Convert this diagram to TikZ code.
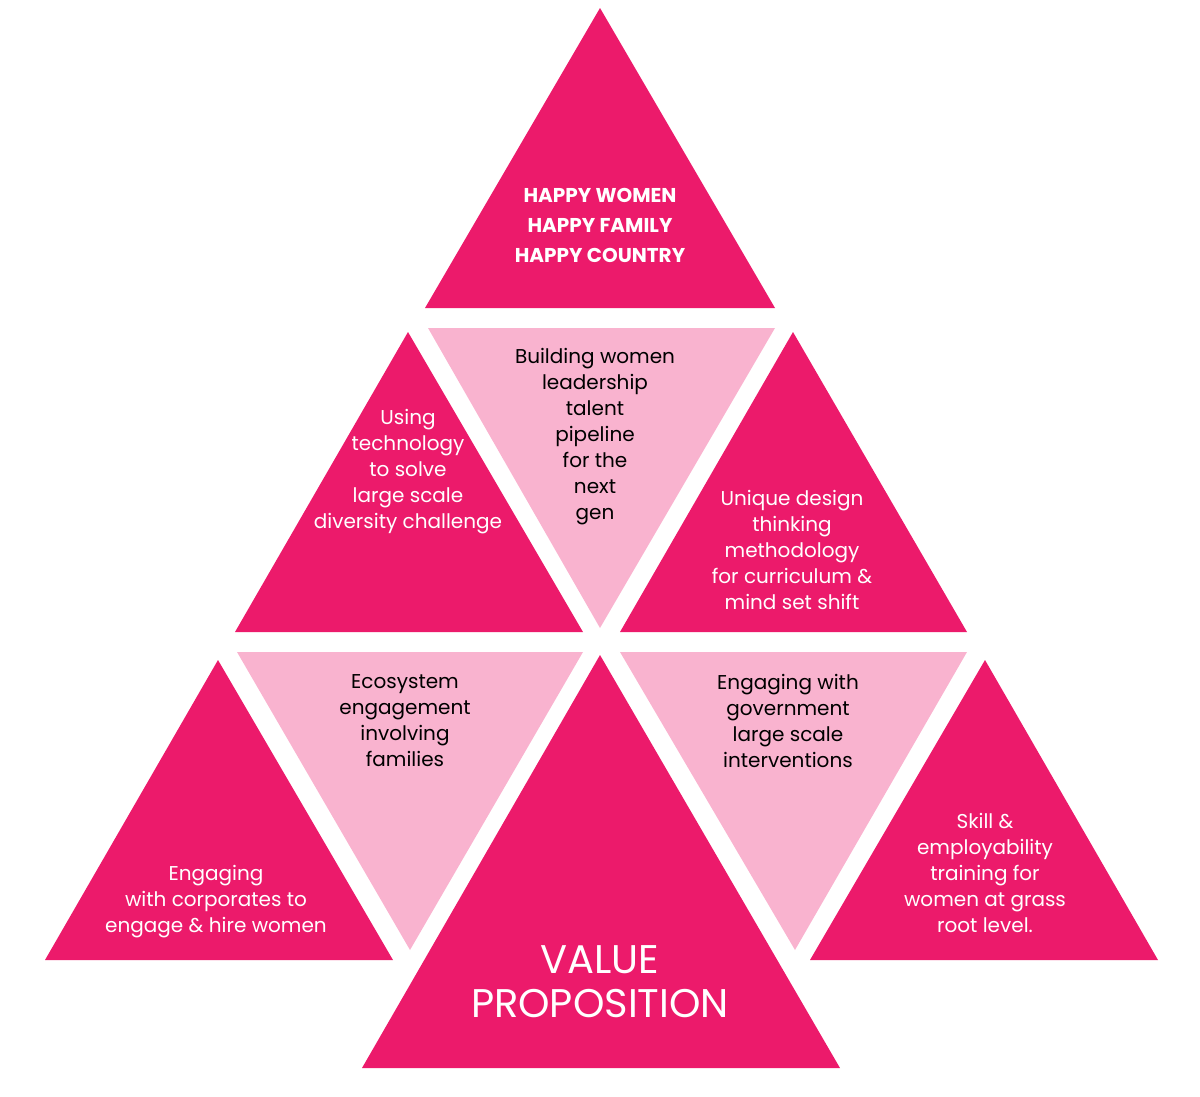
\documentclass[tikz,border=0pt]{standalone}
\usepackage{fontspec}
\setmainfont{Poppins}
\definecolor{darkpink}{HTML}{EC1A6B}
\definecolor{lightpink}{HTML}{F9B3CF}
\begin{document}
\begin{tikzpicture}[x=1pt, y=-1pt, dark/.style = {fill=darkpink}, light/.style = {fill=lightpink},
    wtext/.style = {text=white, align=center, font=\fontsize{20}{26}\selectfont},
    btext/.style = {text=black, align=center, font=\fontsize{20}{26}\selectfont}]
    \useasboundingbox (0,0) rectangle (1200,1096);
    % triangles
    \fill[dark] (600,8) -- (775,308) -- (425,308) -- cycle;
    \fill[dark] (408,332) -- (583,632) -- (235,632) -- cycle;
    \fill[light] (428,328) -- (775,328) -- (600,628) -- cycle;
    \fill[dark] (793,332) -- (967,632) -- (620,632) -- cycle;
    \fill[dark] (218,660) -- (393,960) -- (45,960) -- cycle;
    \fill[light] (237,652) -- (583,652) -- (410,950) -- cycle;
    \fill[dark] (600,655) -- (840,1068) -- (362,1068) -- cycle;
    \fill[light] (620,652) -- (967,652) -- (795,950) -- cycle;
    \fill[dark] (985,660) -- (1158,960) -- (810,960) -- cycle;
    % texts
    \node[wtext, font=\fontsize{20}{30}\selectfont\bfseries] (top) at (600,225) {HAPPY WOMEN\\HAPPY FAMILY\\HAPPY COUNTRY};
    \node[wtext] (tech) at (408,472) {Using\\technology\\to solve\\large scale\\diversity challenge};
    \node[btext] (lead) at (595,437) {Building women\\leadership\\talent\\pipeline\\for the\\next\\gen};
    \node[wtext] (design) at (792,550) {Unique design\\thinking\\methodology\\for curriculum \&\\mind set shift};
    \node[btext] (eco) at (405,721) {Ecosystem\\engagement\\involving\\families};
    \node[btext] (gov) at (788,721) {Engaging with\\government\\large scale\\interventions};
    \node[wtext] (corp) at (216,902) {Engaging\\with corporates to\\engage \& hire women};
    \node[wtext] (skill) at (985,873) {Skill \&\\employability\\training for\\women at grass\\root level.};
    \node[wtext, font=\fontsize{40}{44}\selectfont] (value) at (600,982) {VALUE\\PROPOSITION};
\end{tikzpicture}
\end{document}
